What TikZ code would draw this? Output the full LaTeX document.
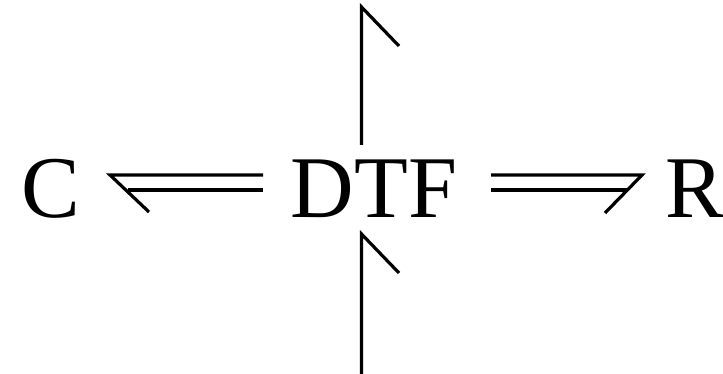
\documentclass[tikz,border=0pt]{standalone}
\usepackage{fontspec}
\setmainfont{Liberation Serif}
\begin{document}
\begin{tikzpicture}[x=1pt,y=-1pt,
  lbl/.style={anchor=base,inner sep=0pt,font=\fontsize{88}{88}\selectfont},
  bond/.style={line width=3.2pt,line join=miter,line cap=butt}]
\useasboundingbox (0,0) rectangle (723,374);
\node[lbl] (C) at (50.5,218) {C};
\node[lbl] (DTF) at (374,218) {DTF};
\node[lbl] (R) at (695,218) {R};
% left bond (towards C)
\coordinate (lt1) at (263,175); \coordinate (lt2) at (110,175); \coordinate (lb) at (149,212);
\coordinate (lb1) at (263,190); \coordinate (lb2) at (128,190);
\draw[bond] (lt1) -- (lt2) -- (lb);
\draw[bond] (lb1) -- (lb2);
% right bond (towards R)
\coordinate (rt1) at (491,175); \coordinate (rt2) at (642,175); \coordinate (rb) at (605,213);
\coordinate (rb1) at (491,190); \coordinate (rb2) at (627,190);
\draw[bond] (rt1) -- (rt2) -- (rb);
\draw[bond] (rb1) -- (rb2);
% top bond
\coordinate (tb) at (361.5,145); \coordinate (tt) at (361.5,7); \coordinate (tbar) at (399,46);
\draw[bond] (tb) -- (tt) -- (tbar);
% bottom bond
\coordinate (bb) at (361.5,374); \coordinate (bt) at (361.5,234); \coordinate (bbar) at (399,273);
\draw[bond] (bb) -- (bt) -- (bbar);
\end{tikzpicture}
\end{document}
